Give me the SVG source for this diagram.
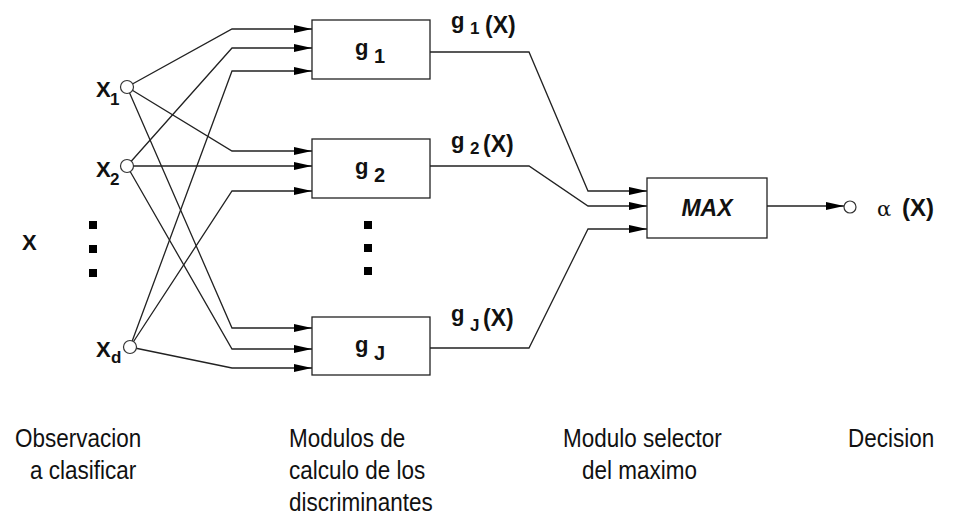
<svg xmlns="http://www.w3.org/2000/svg" width="967" height="527" viewBox="0 0 967 527">
  <style>
    .ln { fill: none; stroke: #222; stroke-width: 1.3; }
    .box { fill: #fff; stroke: #222; stroke-width: 1.3; }
    .port { fill: #fff; stroke: #333; stroke-width: 1.2; }
    .lbl { font-family: "Liberation Sans", Arial, sans-serif; font-weight: bold; fill: #111; }
    .cap { font-family: "Liberation Sans", Arial, sans-serif; font-size: 22.5px; fill: #111; }
    .dot { fill: #000; }
  </style>
  <defs>
    <marker id="arrow" markerUnits="userSpaceOnUse" markerWidth="18" markerHeight="8" refX="18" refY="4" orient="auto">
      <path d="M0,0 L18,4 L0,8 z" fill="#000"/>
    </marker>
  </defs>
  <rect width="967" height="527" fill="#fff"/>

  <!-- connectors -->
  <g id="connectors" class="ln" marker-end="url(#arrow)">
    <polyline points="127,87 232,29 312,29"/>
    <polyline points="127,87 232,151 312,151"/>
    <polyline points="127,87 232,328 312,328"/>
    <polyline points="127,166 232,48 312,48"/>
    <polyline points="127,166 232,166 312,166"/>
    <polyline points="127,166 232,349 312,349"/>
    <polyline points="130,347 232,71 312,71"/>
    <polyline points="130,347 232,191 312,191"/>
    <polyline points="130,347 232,368 312,368"/>
    <polyline points="430,52 529,52 588,191 647,191"/>
    <polyline points="430,166 529,166 588,206 647,206"/>
    <polyline points="430,348 529,348 588,229 647,229"/>
    <polyline points="767,206 844,206"/>
  </g>

  <!-- inputs -->
  <g id="x1">
    <circle class="port" cx="127" cy="87" r="6.5"/>
    <text class="lbl" x="96" y="97" font-size="22">X</text>
    <text class="lbl" x="110" y="105" font-size="17">1</text>
  </g>
  <g id="x2">
    <circle class="port" cx="127" cy="166" r="6.5"/>
    <text class="lbl" x="96" y="177" font-size="22">X</text>
    <text class="lbl" x="110" y="185" font-size="17">2</text>
  </g>
  <g id="xd">
    <circle class="port" cx="130" cy="347" r="6.5"/>
    <text class="lbl" x="96" y="357" font-size="22">X</text>
    <text class="lbl" x="111" y="363" font-size="17">d</text>
  </g>
  <g id="x-vector">
    <text class="lbl" x="22" y="250" font-size="22">X</text>
    <rect class="dot" x="89" y="221" width="8" height="8"/>
    <rect class="dot" x="89" y="245" width="8" height="8"/>
    <rect class="dot" x="89" y="269" width="8" height="8"/>
  </g>

  <!-- discriminant modules -->
  <g id="g1">
    <rect class="box" x="312" y="20" width="118" height="59"/>
    <text class="lbl" x="355" y="55" font-size="22">g</text>
    <text class="lbl" x="374" y="63" font-size="20">1</text>
  </g>
  <g id="g2">
    <rect class="box" x="312" y="139" width="118" height="59"/>
    <text class="lbl" x="355" y="174" font-size="22">g</text>
    <text class="lbl" x="374" y="182" font-size="20">2</text>
  </g>
  <g id="gJ">
    <rect class="box" x="312" y="317" width="118" height="58"/>
    <text class="lbl" x="355" y="352" font-size="22">g</text>
    <text class="lbl" x="374" y="360" font-size="20">J</text>
  </g>
  <g id="g-dots">
    <rect class="dot" x="364" y="221" width="8" height="8"/>
    <rect class="dot" x="364" y="244" width="8" height="8"/>
    <rect class="dot" x="364" y="267" width="8" height="8"/>
  </g>

  <!-- discriminant outputs -->
  <g id="g1-out">
    <text class="lbl" x="451" y="28" font-size="22">g</text>
    <text class="lbl" x="470" y="34" font-size="17">1</text>
    <text class="lbl" x="485" y="33" font-size="23">(X)</text>
  </g>
  <g id="g2-out">
    <text class="lbl" x="451" y="148" font-size="22">g</text>
    <text class="lbl" x="470" y="154" font-size="17">2</text>
    <text class="lbl" x="483" y="152" font-size="23">(X)</text>
  </g>
  <g id="gJ-out">
    <text class="lbl" x="451" y="321" font-size="22">g</text>
    <text class="lbl" x="470" y="331" font-size="17">J</text>
    <text class="lbl" x="483" y="326" font-size="23">(X)</text>
  </g>

  <!-- selector -->
  <g id="max">
    <rect class="box" x="647" y="178" width="120" height="60"/>
    <text class="lbl" x="707" y="216" font-size="23" font-style="italic" text-anchor="middle">MAX</text>
  </g>
  <g id="decision">
    <circle class="port" cx="850" cy="207" r="6"/>
    <text x="877" y="216" font-family="'DejaVu Serif', serif" font-size="21" fill="#111">α</text>
    <text class="lbl" x="902" y="216" font-size="24">(X)</text>
  </g>

  <!-- column captions, slightly stretched vertically -->
  <g id="captions" class="cap">
    <text transform="translate(15,447) scale(1,1.12)">Observacion</text>
    <text transform="translate(30,479) scale(1,1.12)">a clasificar</text>
    <text transform="translate(289,447) scale(1,1.12)">Modulos de</text>
    <text transform="translate(289,479) scale(1,1.12)">calculo de los</text>
    <text transform="translate(289,511) scale(1,1.12)">discriminantes</text>
    <text transform="translate(563,447) scale(1,1.12)">Modulo selector</text>
    <text transform="translate(582,479) scale(1,1.12)">del maximo</text>
    <text transform="translate(848,447) scale(1,1.12)">Decision</text>
  </g>
</svg>
